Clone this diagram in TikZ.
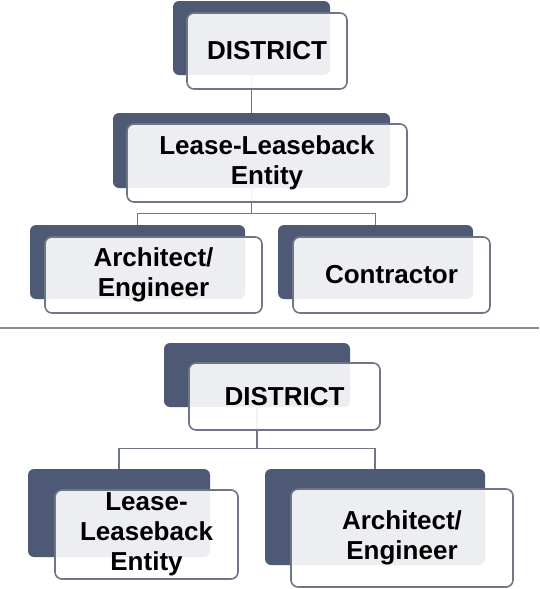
\documentclass[tikz,border=0pt]{standalone}
\usepackage{fontspec}
\setmainfont{Liberation Sans}
\definecolor{slate}{HTML}{4E5A75}
\definecolor{rim}{HTML}{6E7587}
\definecolor{rule}{HTML}{8C8C8C}
\tikzset{
    back/.style={fill=slate, rounded corners=6pt, inner sep=0pt},
    card/.style={draw=rim, line width=1.6pt, fill=white, fill opacity=0.9,
        text opacity=1, rounded corners=7pt, inner sep=0pt, align=center,
        font=\fontsize{26}{30}\selectfont\bfseries},
    link/.style={draw=rim, line width=1.4pt},
}
\begin{document}
\begin{tikzpicture}[x=1pt, y=-1pt]
    \useasboundingbox (0,0) rectangle (539,589);

    % dark backing plates
    \node[back, minimum width=157pt, minimum height=74pt] (distA) at (251.5,38) {};
    \node[back, minimum width=277pt, minimum height=75pt] (lleA) at (251.5,150.5) {};
    \node[back, minimum width=215pt, minimum height=74pt] (archA) at (137.5,262) {};
    \node[back, minimum width=195pt, minimum height=74pt] (contA) at (375.5,262) {};

    \node[back, minimum width=186pt, minimum height=64pt] (distB) at (257,375) {};
    \node[back, minimum width=182pt, minimum height=88pt] (lleB) at (119,513) {};
    \node[back, minimum width=220pt, minimum height=96pt] (archB) at (375,517) {};

    % connectors (drawn under the cards)
    \draw[link] (distA.south) -- (lleA.north);
    \draw[link] (lleA.south) -- ++(0,25) -| (archA.north);
    \draw[link] (lleA.south) -- ++(0,25) -| (contA.north);

    \draw[link] (distB.south) -- ++(0,41) -| (lleB.north);
    \draw[link] (distB.south) -- ++(0,41) -| (archB.north);

    % white cards with labels
    \node[card, minimum width=160pt, minimum height=76pt] (distAc) at (267,51) {DISTRICT};
    \node[card, minimum width=280pt, minimum height=78pt] (lleAc) at (267,163) {Lease-Leaseback\\Entity};
    \node[card, minimum width=217pt, minimum height=76pt] (archAc) at (153.5,275) {Architect/\\Engineer};
    \node[card, minimum width=197pt, minimum height=76pt] (contAc) at (391.5,275) {Contractor};

    \node[card, minimum width=191pt, minimum height=67pt] (distBc) at (284.5,396.5) {DISTRICT};
    \node[card, minimum width=183pt, minimum height=89pt] (lleBc) at (146.5,534.5) {Lease-\\Leaseback\\Entity};
    \node[card, minimum width=222pt, minimum height=98pt] (archBc) at (402,538) {Architect/\\Engineer};

    % separator between the two layouts
    \draw[rule, line width=2.4pt] (0,328) -- (539,328);
\end{tikzpicture}
\end{document}
